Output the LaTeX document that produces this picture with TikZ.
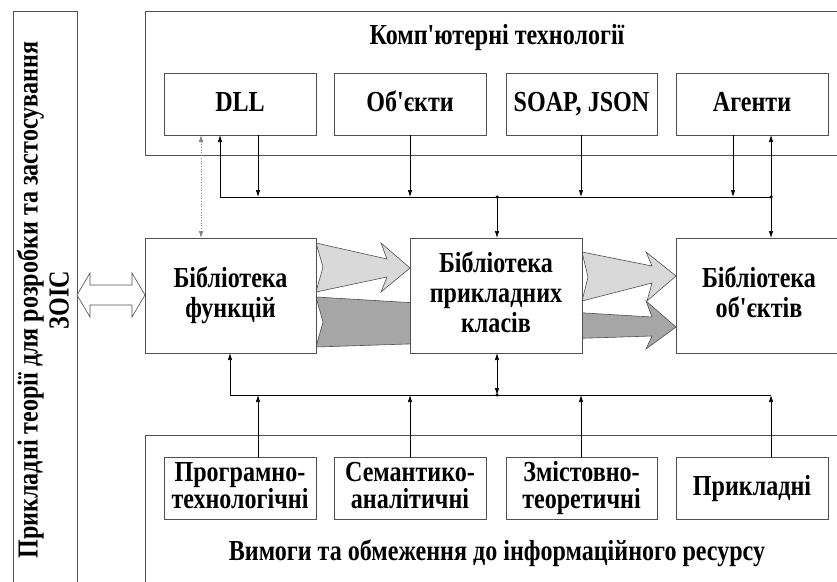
\documentclass[tikz,border=0pt]{standalone}
\usepackage{fontspec}
\setmainfont{Liberation Serif}[FakeStretch=0.83, Ligatures=TeXOff]
\usetikzlibrary{arrows.meta}
\definecolor{boxc}{HTML}{505050}
\definecolor{lightg}{HTML}{D9D9D9}
\definecolor{darkg}{HTML}{A6A6A6}
\newcommand\dgtxt{\fontsize{29}{29}\selectfont\bfseries}
\newcommand\dgph{\vphantom{Бфр}}
\begin{document}
\begin{tikzpicture}[x=1pt,y=-1pt,
  bx/.style={draw=boxc, line width=0.8pt, fill=white, inner sep=0pt, outer sep=0pt,
             anchor=north west, align=center, font=\dgtxt},
  one/.style={text height=20pt, text depth=5pt},
  two/.style={font=\fontsize{29}{27}\selectfont\bfseries},
  mid/.style={font=\fontsize{29}{30}\selectfont\bfseries},
  lbl/.style={inner sep=0pt, align=center, font=\dgtxt},
  conn/.style={draw=black, line width=0.7pt},
  tip/.style={-{Latex[length=7pt,width=4.5pt]}},
  dtip/.style={{Latex[length=7pt,width=4.5pt]}-{Latex[length=7pt,width=4.5pt]}},
  fat/.style={draw=boxc, line width=0.6pt, line join=miter},
  jdot/.style={circle, fill=black, inner sep=0pt, minimum size=3.5pt}]
\useasboundingbox (0,0) rectangle (837,581);
\clip (0,0) rectangle (837,581);

% outer frames
\node[bx, minimum width=64pt, minimum height=620pt] (left) at (13,11) {};
\node[bx, minimum width=704pt, minimum height=144pt] (top) at (145,11) {};
\node[bx, minimum width=704pt, minimum height=170pt] (bot) at (145,435) {};

\node[lbl, rotate=90, font=\fontsize{29}{31}\selectfont\bfseries] (lt) at (43,300)
  {Прикладні теорії для розробки та застосування\\ЗОІС};
\node[lbl] (ttl) at (497,38) {Комп'ютерні технології};
\node[lbl] (cap) at (497,553) {Вимоги та обмеження до інформаційного ресурсу};

% top small boxes
\node[bx, one, minimum width=152pt, minimum height=62pt] (dll) at (164,73) {DLL};
\node[bx, one, minimum width=152pt, minimum height=62pt] (obj) at (334,73) {Об'єкти};
\node[bx, one, minimum width=151pt, minimum height=62pt] (soap) at (506,73) {SOAP, JSON};
\node[bx, one, minimum width=152pt, minimum height=62pt] (agt) at (676,73) {Агенти};

% bottom small boxes
\node[bx, two, minimum width=152pt, minimum height=62pt] (prg) at (164,457) {\dgph Програмно-\\\dgph технологічні};
\node[bx, two, minimum width=152pt, minimum height=62pt] (sem) at (334,457) {\dgph Семантико-\\\dgph аналітичні};
\node[bx, two, minimum width=151pt, minimum height=62pt] (zms) at (506,457) {\dgph Змістовно-\\\dgph теоретичні};
\node[bx, one, minimum width=152pt, minimum height=62pt] (prk) at (676,457) {Прикладні};

% fat arrows
\fill[lightg] (316,243) -- (387,259) -- (381,243) -- (410,268) -- (381,292) -- (387,277) -- (316,292) -- (323,267) -- cycle;
\draw[fat] (316,243) -- (387,259) -- (381,243) -- (410,268) -- (381,292) -- (387,277) -- (316,292) -- (323,267) -- cycle;
\fill[darkg] (316,297) -- (652,317) -- (646,301) -- (676,327) -- (646,349) -- (652,336) -- (316,347) -- (323,322) -- cycle;
\draw[fat] (316,297) -- (652,317) -- (646,301) -- (676,327) -- (646,349) -- (652,336) -- (316,347) -- (323,322) -- cycle;
\fill[lightg] (582,252) -- (652,266) -- (646,252) -- (676,276) -- (647,301) -- (652,283) -- (582,301) -- (588,277) -- cycle;
\draw[fat] (582,252) -- (652,266) -- (646,252) -- (676,276) -- (647,301) -- (652,283) -- (582,301) -- (588,277) -- cycle;

% hollow double arrow
\draw[fat, fill=white] (77,295) -- (90,273) -- (90,285) -- (132,285) -- (132,273) -- (145,295)
  -- (132,317) -- (132,305) -- (90,305) -- (90,317) -- cycle;

% middle boxes
\node[bx, mid, minimum width=171pt, minimum height=115pt] (fun) at (145,238) {\dgph Бібліотека\\\dgph функцій};
\node[bx, mid, minimum width=172pt, minimum height=115pt] (cls) at (410,238) {\dgph Бібліотека\\прикладних\\\dgph класів};
\node[bx, mid, minimum width=166pt, minimum height=115pt] (obl) at (676,238) {\dgph Бібліотека\\\dgph об'єктів};

% bus coordinates
\coordinate (ta) at (220,197);
\coordinate (tb) at (771,197);
\coordinate (tk) at (497,197);
\coordinate (ba) at (230,395);
\coordinate (bb) at (771,395);
\coordinate (bk) at (497,395);
\coordinate (x201) at (201,0);
\coordinate (x258) at (258,0);
\coordinate (x410) at (410,0);
\coordinate (x581) at (581,0);
\coordinate (x733) at (733,0);

% top bus
\draw[conn] (ta) -- (tb);
\draw[conn, tip] (ta) -- (ta |- dll.south);
\draw[conn, tip] (dll.south -| x258) -- (ta -| x258);
\draw[conn, tip] (obj.south -| x410) -- (ta -| x410);
\draw[conn, tip] (soap.south -| x581) -- (ta -| x581);
\draw[conn, tip] (agt.south -| x733) -- (ta -| x733);
\draw[conn, dtip] (agt.south -| tb) -- (obl.north -| tb);
\draw[conn, tip] (tk) -- (cls.north -| tk);
\draw[draw=gray, line width=0.7pt, dotted, dtip] (dll.south -| x201) -- (fun.north -| x201);
\node[jdot] (d1) at (tk) {};
\node[jdot] (d2) at (tb) {};

% bottom bus
\draw[conn] (ba) -- (bb);
\draw[conn, tip] (ba) -- (ba |- fun.south);
\draw[conn, tip] (prg.north -| x258) -- (ba -| x258);
\draw[conn, tip] (sem.north -| x410) -- (ba -| x410);
\draw[conn, tip] (zms.north -| x581) -- (ba -| x581);
\draw[conn, tip] (prk.north -| bb) -- (bb);
\draw[conn, dtip] (cls.south -| bk) -- (bk);
\node[jdot] (d3) at (bk) {};
\end{tikzpicture}
\end{document}
